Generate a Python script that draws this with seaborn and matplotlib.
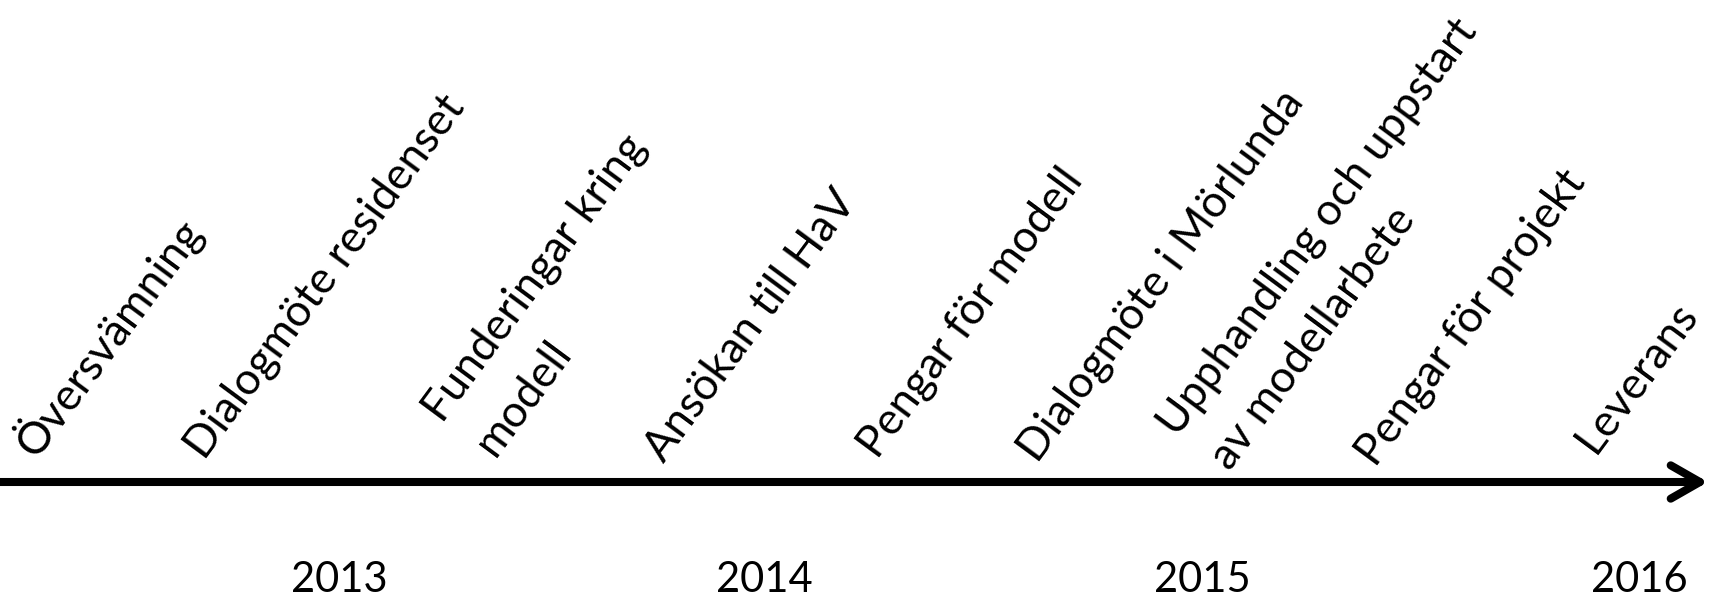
import matplotlib
matplotlib.use("Agg")
import matplotlib.pyplot as plt
import seaborn as sns

# ---- data ----
event_labels = [
    "Översvämning",
    "Dialogmöte residenset",
    "Funderingar kring\nmodell",
    "Ansökan till HaV",
    "Pengar för modell",
    "Dialogmöte i Mörlunda",
    "Upphandling och uppstart\nav modellarbete",
    "Pengar för projekt",
    "Leverans",
]
year_labels = ["2013", "2014", "2015", "2016"]

# ---- layout (pixel coordinates, y downwards) ----
W, H = 1713, 603
event_anchor = [(36, 459), (205, 461), (443, 424), (664, 464), (878, 460),
                (1038, 464), (1178, 438), (1376, 468), (1595, 455)]
second_line_offset = (52, 34)
year_x = [339, 764, 1202, 1639]
year_y = 592
axis_y = 482
axis_end = 1708
ROT = 53.5

sns.set_theme(style="white")
plt.rcParams["font.family"] = ["Lato", "DejaVu Sans"]

fig = plt.figure(figsize=(W / 100, H / 100), dpi=100)
ax = fig.add_axes([0, 0, 1, 1])
ax.set_xlim(0, W)
ax.set_ylim(H, 0)
ax.axis("off")

FS = 32

for label, (x, y) in zip(event_labels, event_anchor):
    lines = label.split("\n")
    for i, line in enumerate(lines):
        ax.text(x + i * second_line_offset[0], y + i * second_line_offset[1], line,
                rotation=ROT, rotation_mode="anchor", ha="left", va="baseline",
                fontsize=FS, color="black")

for label, x in zip(year_labels, year_x):
    ax.text(x, year_y, label, ha="center", va="baseline", fontsize=30, color="black")

ax.annotate("", xy=(axis_end, axis_y), xytext=(0, axis_y),
            arrowprops=dict(arrowstyle="->,head_length=0.7,head_width=0.4",
                            lw=5.8, color="black", shrinkA=0, shrinkB=0,
                            mutation_scale=30))

fig.savefig("out.png", dpi=100, facecolor="white")
